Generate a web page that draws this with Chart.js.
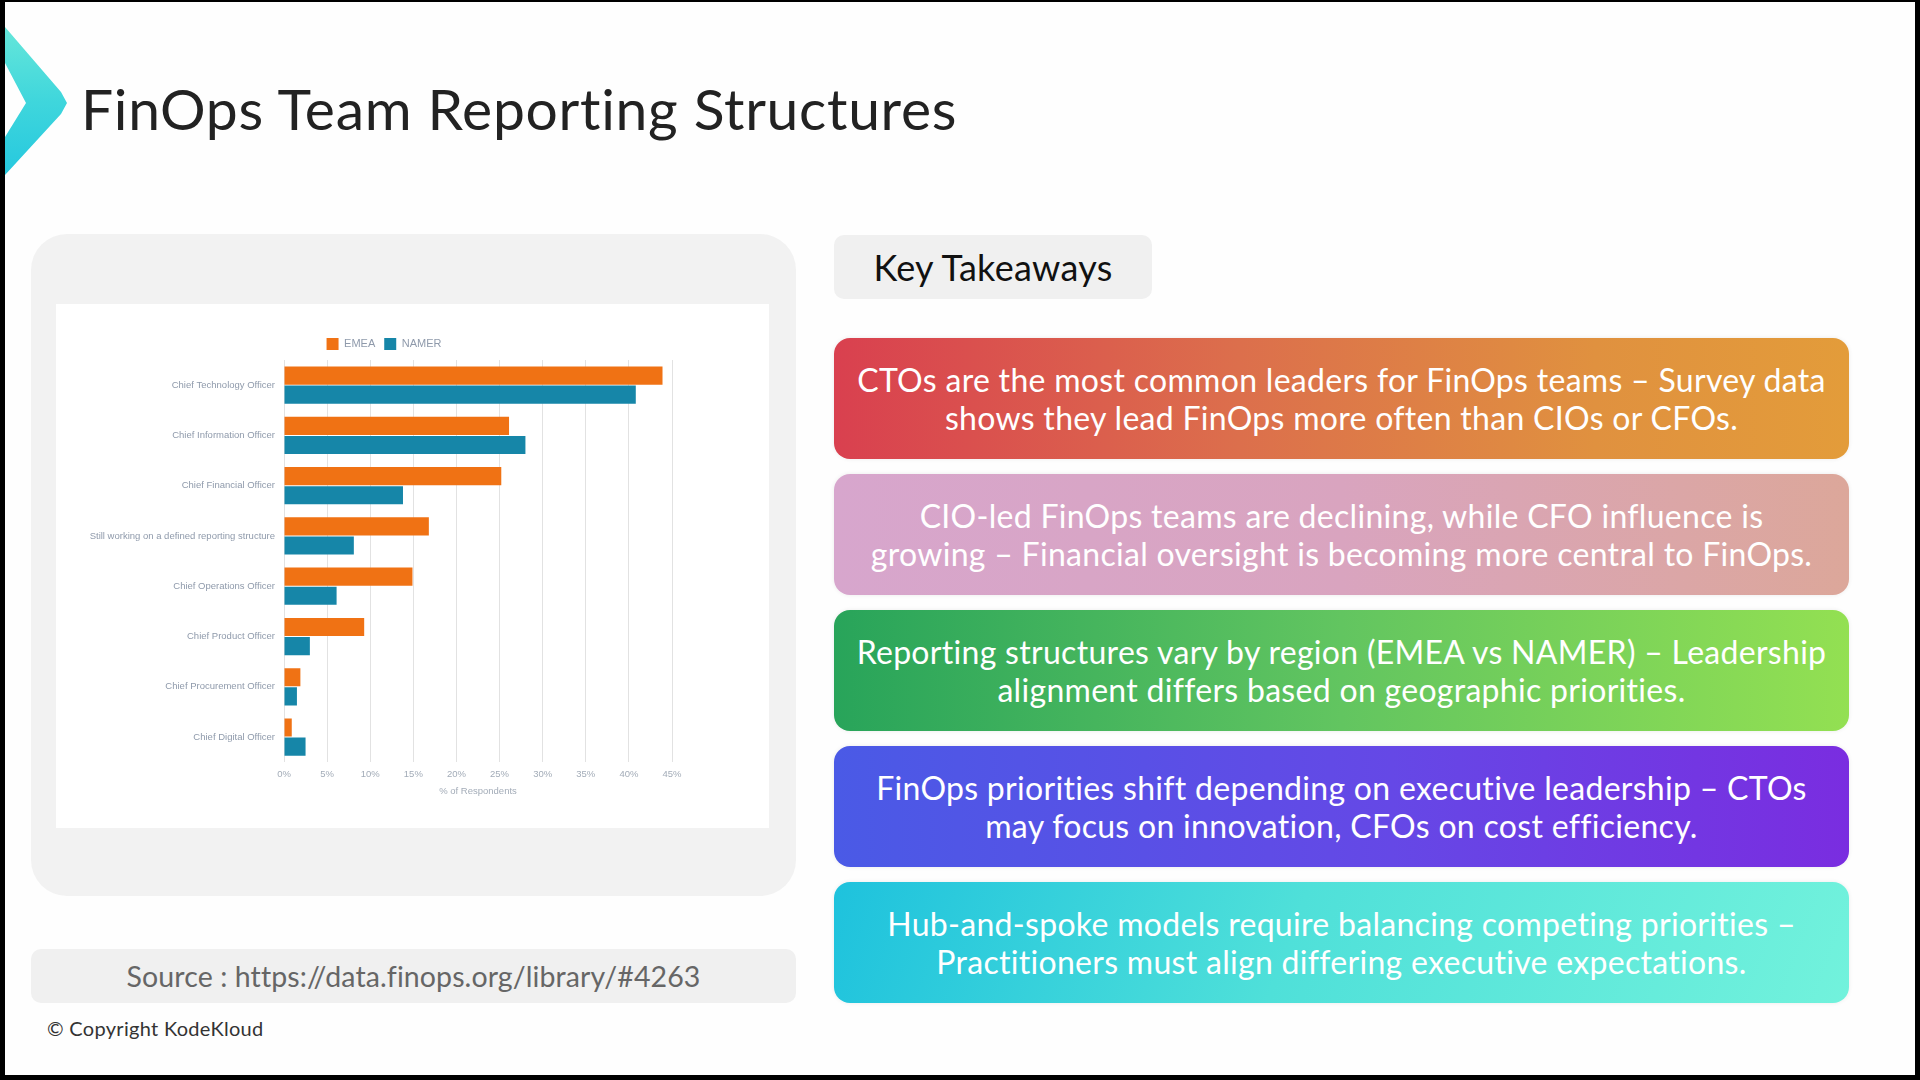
<!DOCTYPE html>
<html>
<head>
<meta charset="utf-8">
<script src="https://cdn.jsdelivr.net/npm/chart.js@4/dist/chart.umd.min.js"></script>
<style>
  html, body { margin: 0; padding: 0; }
  body {
    width: 1920px; height: 1080px; position: relative; overflow: hidden;
    background: #000; font-family: Lato, "Open Sans", sans-serif;
  }
  .page {
    position: absolute; left: 5px; top: 2px; width: 1910px; height: 1073px;
    background: #fefefe;
  }
  .abs { position: absolute; }
  .chevron {
    left: 0; top: 0; width: 80px; height: 200px;
    background: linear-gradient(180deg, #72ecd9 0%, #3fd6dc 50%, #1cc3e0 100%);
    clip-path: polygon(0px 25px, 56px 90px, 62px 101px, 56px 112px, 0px 173px, 0px 135px, 21px 101px, 0px 61px);
  }
  .title {
    left: 76px; top: 71px; font-size: 57px; letter-spacing: 0.7px; color: #222; line-height: 70px;
  }
  .leftCard {
    left: 26px; top: 232px; width: 765px; height: 662px;
    background: #f2f2f2; border-radius: 36px;
  }
  .chartPanel {
    left: 51px; top: 302px; width: 713px; height: 524px; background: #fff;
  }
  .source {
    left: 26px; top: 947px; width: 765px; height: 54px; border-radius: 10px;
    background: #f0f0f0; color: #666; font-size: 28.5px; letter-spacing: 0.1px; line-height: 54px; text-align: center;
  }
  .copy { left: 42px; top: 1013px; font-size: 20px; letter-spacing: 0.3px; color: #333; line-height: 26px; }
  .kt {
    left: 829px; top: 233px; width: 318px; height: 64px; border-radius: 10px;
    background: #f0f0f0; color: #111; font-size: 36px; letter-spacing: 0.3px; line-height: 64px; text-align: center;
  }
  .card {
    left: 829px; width: 1015px; height: 121px; border-radius: 16px;
    color: #fff; font-size: 32px; letter-spacing: 0.3px; line-height: 38px; text-align: center;
    display: flex; align-items: center; justify-content: center;
    box-shadow: 0 0 4px rgba(0,0,0,0.08);
  }
  .c1 { top: 336px; background: linear-gradient(90deg, #d9404f 0%, #dc6f4c 40%, #e0913f 75%, #e39c3a 100%); }
  .c2 { top: 472px; background: linear-gradient(90deg, #d7a6cd 0%, #d9a4bf 50%, #dca79a 100%); }
  .c3 { top: 608px; background: linear-gradient(90deg, #28a45a 0%, #62c560 50%, #93e052 100%); }
  .c4 { top: 744px; background: linear-gradient(90deg, #4a5ae6 0%, #6548e6 55%, #7a2de0 100%); }
  .c5 { top: 880px; background: linear-gradient(110deg, #1ec2dd 0%, #4fe0d9 45%, #72f2dc 100%); }
</style>
</head>
<body>
<div class="page">
  <div class="abs chevron"></div>
  <div class="abs title">FinOps Team Reporting Structures</div>
  <div class="abs leftCard"></div>
  <div class="abs chartPanel">
    <canvas id="chart"></canvas>
  </div>
  <div class="abs source">Source : https://data.finops.org/library/#4263</div>
  <div class="abs copy">© Copyright KodeKloud</div>
  <div class="abs kt">Key Takeaways</div>
  <div class="abs card c1"><div>CTOs are the most common leaders for FinOps teams – Survey data<br>shows they lead FinOps more often than CIOs or CFOs.</div></div>
  <div class="abs card c2"><div>CIO-led FinOps teams are declining, while CFO influence is<br>growing – Financial oversight is becoming more central to FinOps.</div></div>
  <div class="abs card c3"><div>Reporting structures vary by region (EMEA vs NAMER) – Leadership<br>alignment differs based on geographic priorities.</div></div>
  <div class="abs card c4"><div>FinOps priorities shift depending on executive leadership – CTOs<br>may focus on innovation, CFOs on cost efficiency.</div></div>
  <div class="abs card c5"><div>Hub-and-spoke models require balancing competing priorities –<br>Practitioners must align differing executive expectations.</div></div>
</div>

<script>
const roles = [
  'Chief Technology Officer',
  'Chief Information Officer',
  'Chief Financial Officer',
  'Still working on a defined reporting structure',
  'Chief Operations Officer',
  'Chief Product Officer',
  'Chief Procurement Officer',
  'Chief Digital Officer'
];
const emea = [43.9, 26.1, 25.2, 16.8, 14.9, 9.3, 1.9, 0.9];
const namer = [40.8, 28.0, 13.8, 8.1, 6.1, 3.0, 1.5, 2.5];
const xTicks = [0, 5, 10, 15, 20, 25, 30, 35, 40, 45];

const labelGray = '#8f9aab';
const font = { family: '"Liberation Sans", Arial, sans-serif', size: 9.5 };

const canvas = document.getElementById('chart');
canvas.style.position = 'absolute';
canvas.style.left = '0px';
canvas.style.top = '0px';
canvas.style.width = '663px';
canvas.style.height = '524px';
canvas.width = 663;
canvas.height = 524;

// the legend in the source sits left of the plot centre; nudge it over
const legendShift = {
  id: 'legendShift',
  afterLayout(chart) {
    chart.legend.left += 20;
    chart.legend.right += 20;
  }
};

new Chart(canvas, {
  type: 'bar',
  data: {
    labels: roles,
    datasets: [
      { label: 'EMEA', data: emea, backgroundColor: '#f07214' },
      { label: 'NAMER', data: namer, backgroundColor: '#1686a8' }
    ]
  },
  options: {
    indexAxis: 'y',
    responsive: false,
    animation: false,
    categoryPercentage: 0.76,
    barPercentage: 0.95,
    layout: { padding: { top: 25, right: 47, bottom: 27, left: 0 } },
    plugins: {
      legend: {
        position: 'top',
        labels: {
          boxWidth: 12, boxHeight: 12, padding: 9,
          color: labelGray, font: { family: font.family, size: 11 }
        }
      },
      tooltip: { enabled: false }
    },
    scales: {
      x: {
        min: 0, max: 45,
        afterBuildTicks: (axis) => { axis.ticks = xTicks.map(v => ({ value: v })); },
        ticks: { color: '#a3acb8', font: font, padding: 6, callback: v => v + '%' },
        grid: { color: '#e2e2e2', drawTicks: false },
        border: { display: false },
        title: {
          display: true, text: '% of Respondents', color: '#a3acb8', font: font,
          padding: { top: 0, bottom: 4 }
        }
      },
      y: {
        afterFit: (axis) => { axis.width = 228; },
        ticks: { color: labelGray, font: font, padding: 1 },
        grid: { display: false },
        border: { display: false }
      }
    }
  },
  plugins: [legendShift]
});
</script>
</body>
</html>
